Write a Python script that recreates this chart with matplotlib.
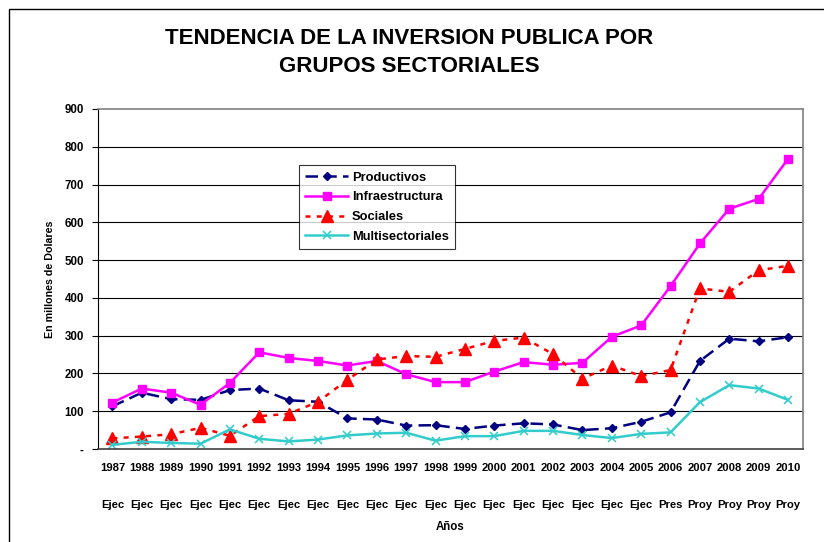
import matplotlib
matplotlib.use("Agg")
import matplotlib.pyplot as plt
from matplotlib.patches import Rectangle
import numpy as np

plt.rcParams['font.family'] = ['Liberation Sans', 'DejaVu Sans']
plt.rcParams['font.weight'] = 'bold'

years = ['1987', '1988', '1989', '1990', '1991', '1992', '1993', '1994', '1995', '1996',
         '1997', '1998', '1999', '2000', '2001', '2002', '2003', '2004', '2005', '2006',
         '2007', '2008', '2009', '2010']
status = ['Ejec'] * 19 + ['Pres'] + ['Proy'] * 4

productivos = [113, 149, 132, 130, 156, 160, 129, 125, 81, 78, 62, 63, 53, 62, 68, 65,
               50, 55, 72, 97, 233, 292, 285, 296]
infraestructura = [123, 160, 149, 117, 175, 256, 241, 233, 221, 233, 198, 177, 177, 205,
                   230, 223, 228, 297, 327, 431, 544, 636, 662, 768]
sociales = [28, 33, 39, 56, 35, 87, 93, 125, 183, 237, 246, 244, 265, 286, 295, 251,
            186, 221, 193, 209, 425, 416, 473, 485]
multisectoriales = [11, 19, 16, 14, 52, 27, 20, 25, 36, 41, 43, 22, 34, 34, 48, 48,
                    37, 29, 40, 44, 124, 169, 160, 130]

yticks = [0, 100, 200, 300, 400, 500, 600, 700, 800, 900]
ytick_labels = ['-'] + [str(v) for v in yticks[1:]]

fig = plt.figure(figsize=(8.24, 5.42), dpi=100)
ax = fig.add_axes([0.1186, 0.1716, 0.8556, 0.6273])

x = np.arange(len(years))

ax.plot(x, productivos, color='#000080', lw=1.8, ls=(0, (5, 2.5)), marker='D',
        markersize=4.5, label='Productivos')
ax.plot(x, infraestructura, color='#FF00FF', lw=1.8, marker='s', markersize=6,
        label='Infraestructura')
ax.plot(x, sociales, color='#FF0000', lw=1.8, ls=(0, (2, 2.5)), marker='^', markersize=8,
        label='Sociales')
ax.plot(x, multisectoriales, color='#33CCCC', lw=1.8, marker='x', markersize=6,
        markeredgewidth=1.1, label='Multisectoriales')

ax.set_xlim(-0.5, len(years) - 0.5)
ax.set_ylim(0, 900)
ax.set_yticks(yticks)
ax.set_yticklabels(ytick_labels, fontsize=8.3, fontweight='bold')
ax.set_xticks(x)
ax.set_xticklabels(years, fontsize=8.1, fontweight='bold')
ax.tick_params(axis='x', length=0, pad=10)
ax.tick_params(axis='y', length=4, width=0.8, direction='out', pad=6)

for y in yticks[1:-1]:
    ax.axhline(y, color='black', lw=0.8, zorder=0)

for s in ['top', 'right']:
    ax.spines[s].set_color('#808080')
    ax.spines[s].set_linewidth(1.2)
ax.spines['left'].set_color('black')
ax.spines['bottom'].set_color('#404040')
ax.spines['bottom'].set_linewidth(1.2)

for i, st in enumerate(status):
    ax.text(i, -0.165, st, transform=ax.get_xaxis_transform(), ha='center', va='center',
            fontsize=8.1, fontweight='bold')

ax.text(0.5, -0.23, 'Años', transform=ax.transAxes, ha='center', va='center',
        fontsize=8.3, fontweight='bold')
ax.set_ylabel('En millones de Dolares', fontsize=7.7, fontweight='bold', labelpad=7)

leg = ax.legend(loc='upper left', bbox_to_anchor=(0.2855, 0.835), borderaxespad=0,
                frameon=True, fancybox=False, borderpad=0.5, labelspacing=0.6,
                handlelength=3.3, handletextpad=0.3, prop={'weight': 'bold', 'size': 9.3})
leg.get_frame().set_edgecolor('black')
leg.get_frame().set_linewidth(0.8)

fig.text(0.4965, 0.903, 'TENDENCIA DE LA INVERSION PUBLICA POR\nGRUPOS SECTORIALES',
         ha='center', va='center', fontsize=16, fontweight='bold', linespacing=1.4)

fig.patches.append(Rectangle((8.5 / 824, -0.1), 1.0, 1.1 - 9 / 542, transform=fig.transFigure,
                             fill=False, edgecolor='black', lw=1.0))

fig.savefig('out.png', dpi=100)
